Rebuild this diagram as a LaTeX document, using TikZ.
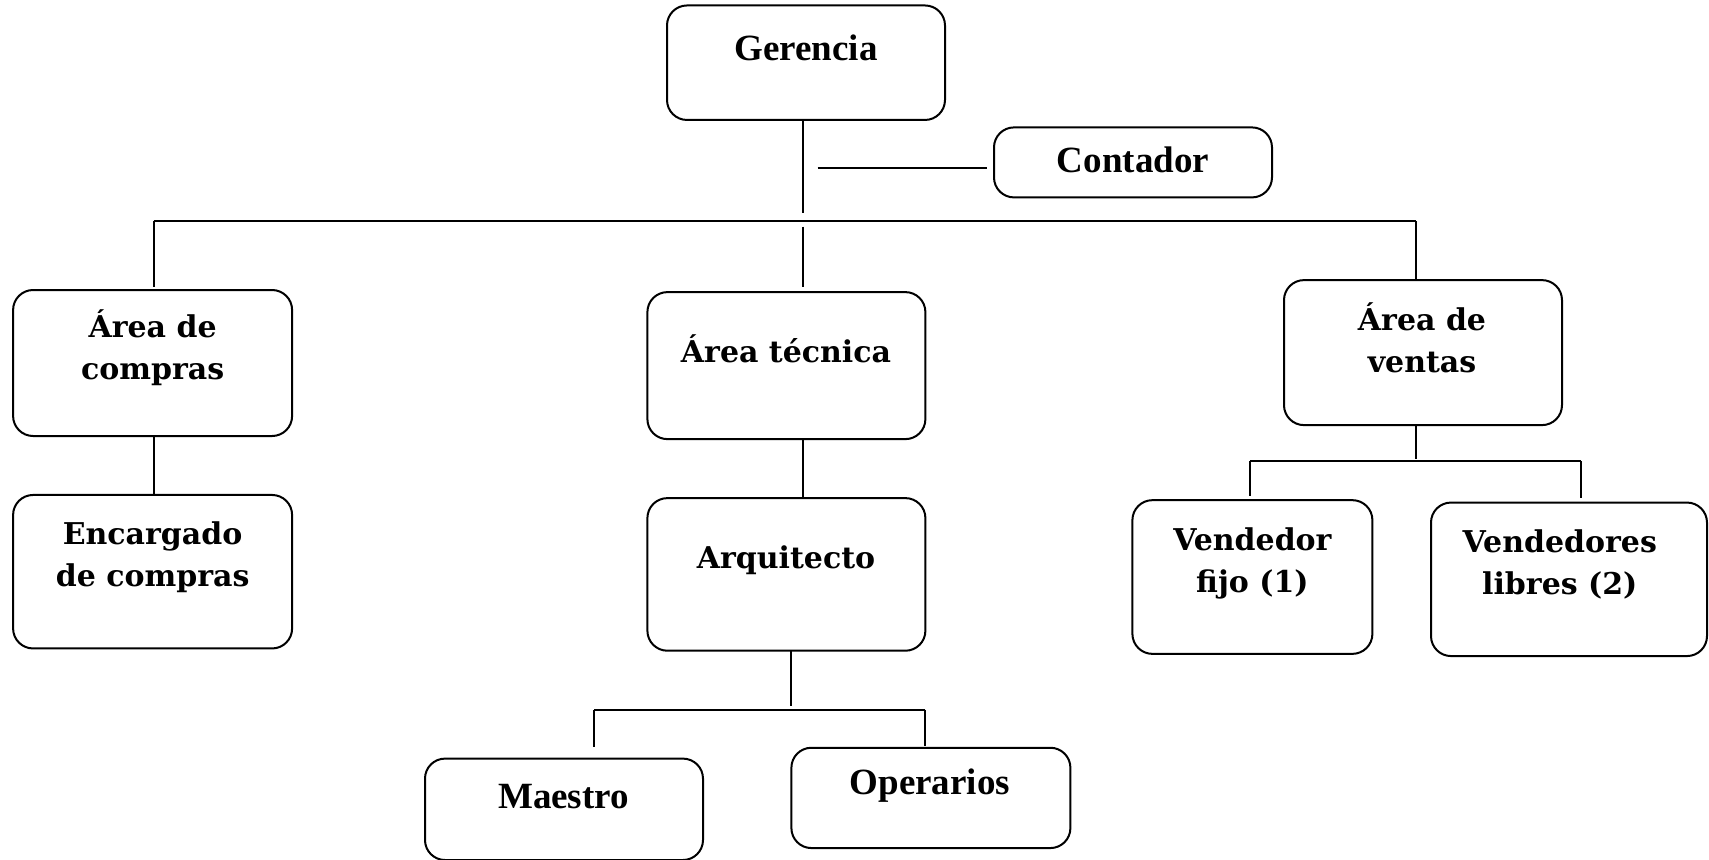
\documentclass[tikz,border=0pt]{standalone}
\usepackage{fontspec}
\setmainfont{DejaVu Serif}
\newfontfamily\narrowfont{Liberation Serif}
\begin{document}
\begin{tikzpicture}[x=0.5pt,y=-0.5pt,line width=1pt,
  box/.style 2 args={draw,rounded corners=10pt,inner sep=0pt,outer sep=0pt,
    minimum width=#1*0.5pt,minimum height=#2*0.5pt},
  txt/.style={font=\bfseries\fontsize{15}{21}\selectfont,align=center,inner sep=0pt},
  narrow/.style={font=\narrowfont\bfseries\fontsize{18.5}{22}\selectfont,inner sep=0pt}]
\useasboundingbox (0,0) rectangle (1709,859);

% boxes
\node[box={278}{114.5}] (ger) at (806,62.7) {};
\node[box={278}{70}]    (con) at (1133,162.4) {};
\node[box={279}{146}]   (ac)  at (152.6,363) {};
\node[box={279}{153.5}] (enc) at (152.6,571.7) {};
\node[box={278}{147}]   (at)  at (786.4,365.6) {};
\node[box={278}{152.6}] (arq) at (786.4,574.4) {};
\node[box={278}{101.4}] (mae) at (564,809.3) {};
\node[box={279}{100.3}] (ope) at (930.9,797.9) {};
\node[box={278}{145}]   (av)  at (1423,352.6) {};
\node[box={240}{153.7}] (vf)  at (1252.4,577) {};
\node[box={276}{153.5}] (vl)  at (1569,579.3) {};

% labels
\node[narrow] (gerT) at (806,48)   {Gerencia};
\node[narrow] (conT) at (1133,160.2) {Contador};
\node[txt] (acT)  at (152.6,348)  {Área de\\compras};
\node[txt] (encT) at (152.6,557.4) {Encargado\\de compras};
\node[txt] (atT)  at (786,349)    {Área técnica};
\node[txt] (arqT) at (786,560)    {Arquitecto};
\node[narrow] (maeT) at (563.5,796.5) {Maestro};
\node[narrow] (opeT) at (929.8,786) {Operarios};
\node[txt] (avT)  at (1422,337.8) {Área de\\ventas};
\node[txt] (vfT)  at (1252.4,563) {Vendedor\\fijo (1)};
\node[txt] (vlT)  at (1559.8,564) {Vendedores\\libres (2)};

% junction points
\coordinate (trunk) at (803.3,212.5);
\coordinate (conL)  at (817.5,168);
\coordinate (busL)  at (153.7,221.3);
\coordinate (busR)  at (1416,221.3);
\coordinate (midTop) at (803.3,226.7);
\coordinate (b2M) at (791.3,706.3);
\coordinate (b2L) at (594,709.6);
\coordinate (b2R) at (925.4,709.6);
\coordinate (b3M) at (1416,459);
\coordinate (b3L) at (1250,461);
\coordinate (b3R) at (1580.5,461);

% connectors
\draw (ger.south -| trunk) -- (trunk);
\draw (conL) -- ([xshift=-3.5pt]conL -| con.west);
\draw (busL) -- (busR);
\draw (busL) -- ([yshift=1.5pt]busL |- ac.north);
\draw (midTop) -- ([yshift=2.7pt]midTop |- at.north);
\draw (busR) -- (busR |- av.north);
\draw (ac.south -| busL) -- (enc.north -| busL);
\draw (at.south -| midTop) -- (arq.north -| midTop);
\draw (arq.south -| b2M) -- (b2M);
\draw (b2L) -- (b2R);
\draw (b2L) -- ([yshift=6pt]b2L |- mae.north);
\draw (b2R) -- ([yshift=1pt]b2R |- ope.north);
\draw (av.south -| b3M) -- (b3M);
\draw (b3L) -- (b3R);
\draw (b3L) -- ([yshift=2pt]b3L |- vf.north);
\draw (b3R) -- ([yshift=2.5pt]b3R |- vl.north);
\end{tikzpicture}
\end{document}
